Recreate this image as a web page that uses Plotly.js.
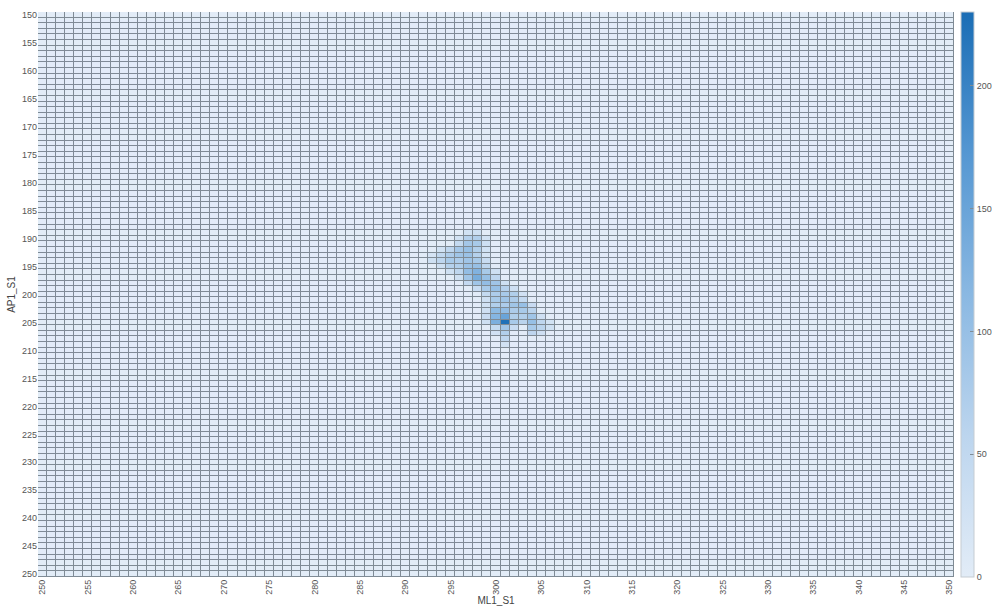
<!DOCTYPE html>
<html>
<head>
<meta charset="utf-8">
<script src="https://cdn.plot.ly/plotly-3.0.1.min.js"></script>
<style>html,body{margin:0;padding:0;background:#fff;}#chart{width:994px;height:611px;}</style>
</head>
<body>
<div id="chart"></div>
<script>
// Axis categories
const xValues = []; for (let v = 250; v <= 350; v++) xValues.push(v);
const yValues = []; for (let v = 150; v <= 250; v++) yValues.push(v);
const tickValsX = [250,255,260,265,270,275,280,285,290,295,300,305,310,315,320,325,330,335,340,345,350];
const tickValsY = [150,155,160,165,170,175,180,185,190,195,200,205,210,215,220,225,230,235,240,245,250];

// Non-zero cells (all others are 0)
const cellX = [
 297,298,
 296,297,298,299,
 296,297,298,299,
 294,295,296,297,298,299,
 293,294,295,296,297,298,299,
 293,294,295,296,297,298,299,
 294,295,296,297,298,299,
 295,296,297,298,299,300,
 296,297,298,299,300,
 297,298,299,300,301,
 298,299,300,301,302,
 299,300,301,302,303,
 299,300,301,302,303,
 299,300,301,302,303,304,
 299,300,301,302,303,304,
 299,300,301,302,303,304,305,
 299,300,301,302,303,304,305,306,
 300,301,302,304,305,306,
 300,301,304,305,
 301,
 301
];
const cellY = [
 189,189,
 190,190,190,190,
 191,191,191,191,
 192,192,192,192,192,192,
 193,193,193,193,193,193,193,
 194,194,194,194,194,194,194,
 195,195,195,195,195,195,
 196,196,196,196,196,196,
 197,197,197,197,197,
 198,198,198,198,198,
 199,199,199,199,199,
 200,200,200,200,200,
 201,201,201,201,201,
 202,202,202,202,202,202,
 203,203,203,203,203,203,
 204,204,204,204,204,204,204,
 205,205,205,205,205,205,205,205,
 206,206,206,206,206,206,
 207,207,207,207,
 208,
 209
];
const cellCount = [
 25,30,
 25,65,70,25,
 45,85,80,30,
 25,55,85,100,70,25,
 20,50,75,90,95,65,20,
 30,55,80,75,90,80,40,
 30,65,70,95,100,55,
 30,55,105,125,80,30,
 30,90,135,100,55,
 45,90,105,90,30,
 40,80,100,65,30,
 45,75,80,70,25,
 30,80,90,75,45,
 25,70,75,90,100,40,
 30,110,105,75,80,60,
 40,120,150,70,70,90,30,
 30,130,225,80,60,100,55,25,
 45,90,40,80,60,30,
 25,70,55,30,
 55,
 25
];
const colorbarTicks = [0,50,100,150,200];

// Build the matrix the heatmap needs
const z = yValues.map(() => xValues.map(() => 0));
for (let i = 0; i < cellX.length; i++) {
  z[cellY[i] - yValues[0]][cellX[i] - xValues[0]] = cellCount[i];
}

const trace = {
  type: 'heatmap',
  x: xValues,
  y: yValues,
  z: z,
  zmin: 0,
  zmax: 230,
  xgap: 1,
  ygap: 1,
  colorscale: [[0, '#e2ecf7'], [0.25, '#bcd5ee'], [0.5, '#8ab8e2'], [0.75, '#5597d2'], [1, '#1a6db5']],
  hoverongaps: false,
  colorbar: {
    x: 1.0075, xanchor: 'left', xpad: 0,
    y: 0.5, yanchor: 'middle', ypad: 0,
    len: 1, lenmode: 'fraction',
    thickness: 13,
    outlinewidth: 1, outlinecolor: '#c5ccd2',
    tickvals: colorbarTicks,
    ticks: 'inside', ticklen: 4, tickcolor: '#7f8c96',
    tickfont: {family: 'Liberation Sans, Arial, sans-serif', size: 9, color: '#555'}
  }
};

const layout = {
  width: 994, height: 611,
  margin: {l: 38, r: 40, t: 12, b: 34, autoexpand: false},
  paper_bgcolor: '#ffffff',
  plot_bgcolor: '#7f8b95',
  font: {family: 'Liberation Sans, Arial, sans-serif', size: 10, color: '#444'},
  xaxis: {
    range: [249.5, 350.5],
    tickvals: tickValsX,
    tickangle: -90,
    showgrid: false, zeroline: false, ticks: '',
    automargin: false,
    tickfont: {size: 9, color: '#555'},
    title: {text: 'ML1_S1', font: {size: 10, color: '#444'}, standoff: 2}
  },
  yaxis: {
    range: [250.5, 149.5],
    tickvals: tickValsY,
    showgrid: false, zeroline: false, ticks: '',
    automargin: false,
    tickfont: {size: 9, color: '#555'},
    title: {text: 'AP1_S1', font: {size: 10, color: '#444'}, standoff: 4}
  }
};

Plotly.newPlot('chart', [trace], layout, {displayModeBar: false, staticPlot: true});
</script>
</body>
</html>
